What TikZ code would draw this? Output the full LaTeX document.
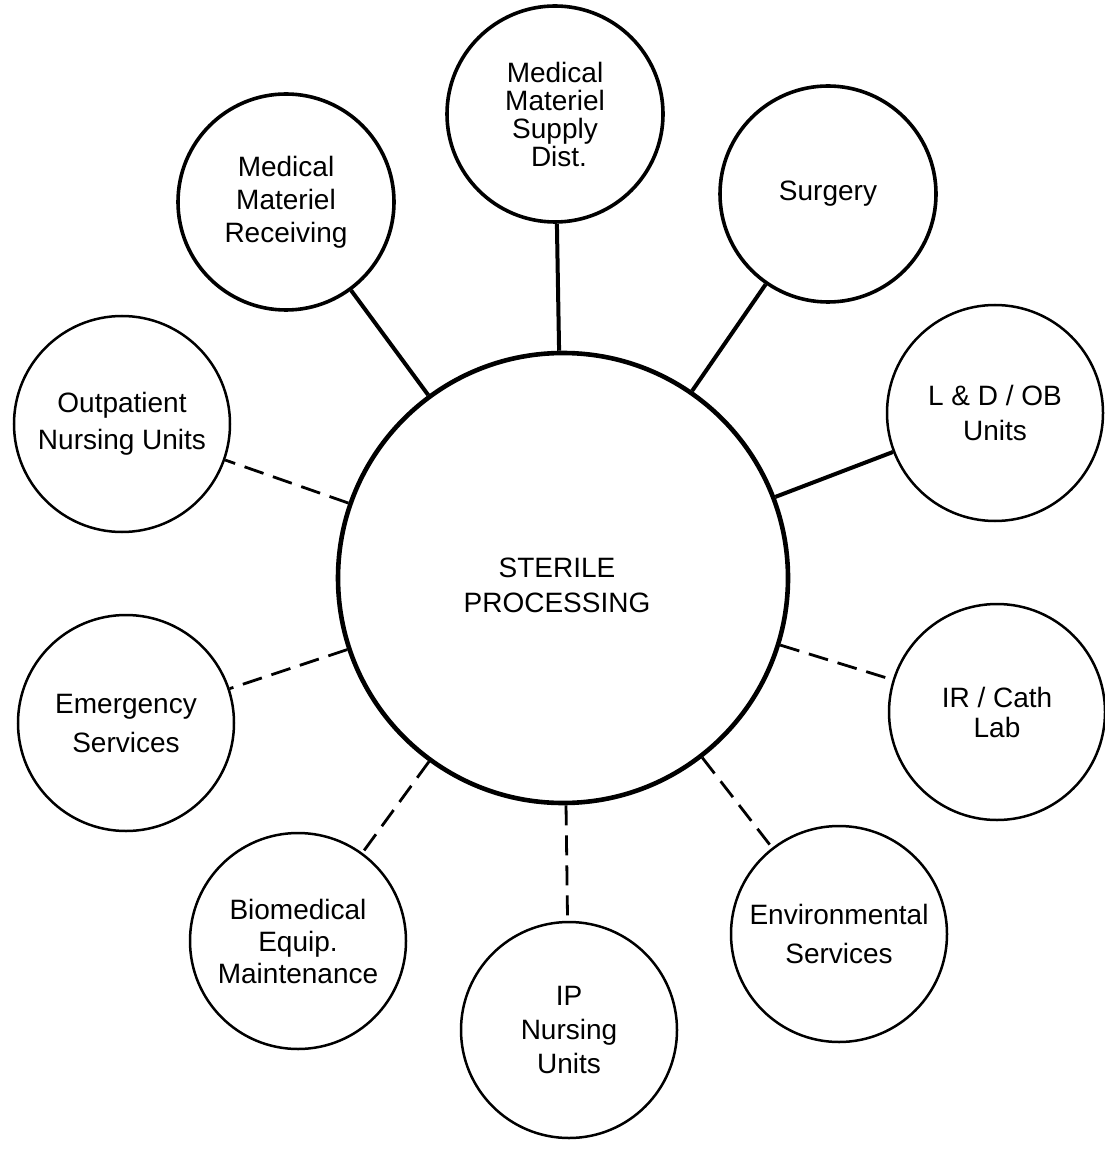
\documentclass[tikz,border=0pt]{standalone}
\usepackage{fontspec}
\setmainfont{Liberation Sans}
\usetikzlibrary{positioning}

\tikzset{
  dept/.style={draw, circle, line width=1.25pt, minimum size=108pt,
               inner sep=0pt, align=center, font=\fontsize{14}{17}\selectfont},
  deptbold/.style={dept, line width=1.8pt},
  hub/.style={draw, circle, line width=2.3pt, minimum size=225pt, inner sep=0pt},
  hubtext/.style={align=center, inner sep=0pt, font=\fontsize{14}{17.5}\selectfont},
  solidlink/.style={line width=2pt},
  dashlink/.style={line width=1.4pt, dash pattern=on 10pt off 5pt}
}

\begin{document}
\begin{tikzpicture}[x=0.5pt, y=-0.5pt]
  \useasboundingbox (0,0) rectangle (1104,1149);

  % Centre
  \node[hub] (sp) at (563,578) {};
  \node[hubtext] (sptext) at (557,585) {STERILE\\PROCESSING};

  % Upper departments (solid links)
  \node[deptbold, font=\fontsize{14}{16.5}\selectfont] (rcv) at (286,202)
       {Medical\\Materiel\\Receiving};
  \node[deptbold, font=\fontsize{14}{14}\selectfont] (dist) at (555,114)
       {Medical\\Materiel\\Supply\\\hspace*{4pt}Dist.};
  \node[deptbold] (surg) at (828,194) {Surgery};
  \node[dept, font=\fontsize{14}{17.5}\selectfont] (ld) at (995,413)
       {L \& D / OB\\Units};

  % Other departments (dashed links)
  \node[dept, font=\fontsize{14}{15}\selectfont] (ir) at (997,712)
       {IR / Cath\\Lab};
  \node[dept, font=\fontsize{14}{19.5}\selectfont] (env) at (839,934)
       {Environmental\\Services};
  \node[dept] (ip) at (569,1030) {IP\\Nursing\\Units};
  \node[dept, font=\fontsize{14}{16}\selectfont] (bio) at (298,941)
       {Biomedical\\Equip.\\Maintenance};
  \node[dept, font=\fontsize{14}{19.5}\selectfont] (er) at (126,723)
       {Emergency\\Services};
  \node[dept, font=\fontsize{14}{18.5}\selectfont] (opd) at (122,424)
       {Outpatient\\Nursing Units};

  % Links
  \foreach \n in {rcv, dist, surg, ld}
    \draw[solidlink] (sp) -- (\n);
  \foreach \n in {ir, env, ip, bio, er, opd}
    \draw[dashlink] (sp) -- (\n);
\end{tikzpicture}
\end{document}
